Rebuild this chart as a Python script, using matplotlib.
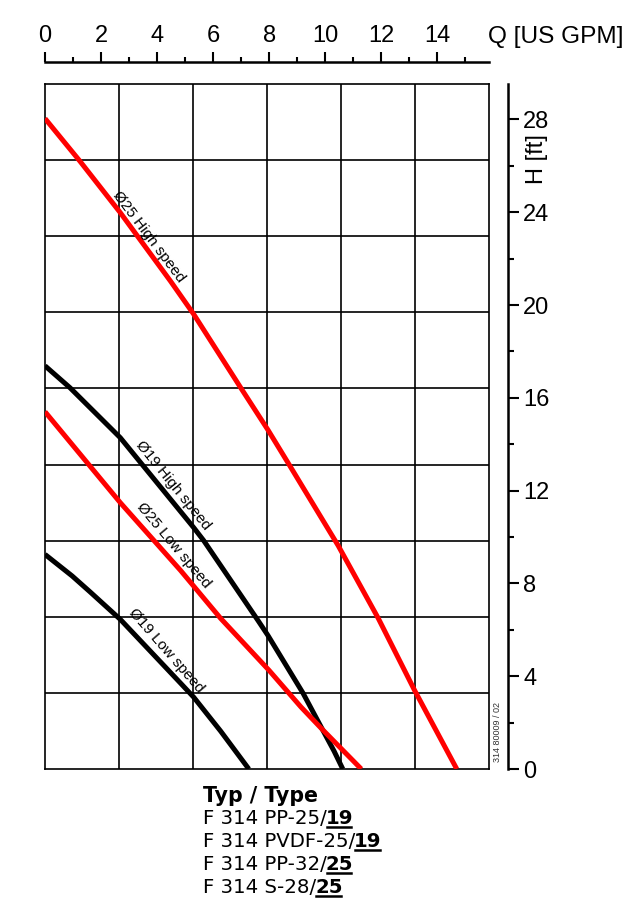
import numpy as np
import matplotlib
matplotlib.use("Agg")
import matplotlib.pyplot as plt
from matplotlib.lines import Line2D

W, H = 640, 911

# pump curves (Q in US GPM, H in ft)
q_25_high = [0, 1.254, 2.688, 4.48, 5.305, 6.989, 7.957, 8.781, 10.466, 11.90, 13.19, 14.70]
h_25_high = [28.04, 26.19, 23.98, 21.03, 19.61, 16.43, 14.62, 12.99, 9.63, 6.49, 3.40, 0]

q_19_high = [0, 0.896, 2.688, 5.305, 5.663, 7.599, 7.957, 9.211, 9.857, 10.32, 10.63]
h_19_high = [17.38, 16.43, 14.28, 10.41, 9.85, 6.41, 5.76, 3.27, 1.81, 0.77, 0]

q_25_low = [0, 2.688, 4.839, 6.272, 7.993, 9.140, 9.857, 11.29]
h_25_low = [15.40, 11.48, 8.56, 6.49, 4.26, 2.67, 1.76, 0]

q_19_low = [0, 0.97, 1.613, 2.688, 4.839, 5.305, 6.272, 7.276]
h_19_low = [9.25, 8.32, 7.63, 6.45, 3.70, 3.10, 1.63, 0]

q_ticks = [0, 2, 4, 6, 8, 10, 12, 14]
h_ticks = [0, 4, 8, 12, 16, 20, 24, 28]

types = ["F 314 PP-25/", "F 314 PVDF-25/", "F 314 PP-32/", "F 314 S-28/"]
sizes = ["19", "19", "25", "25"]

# grid is metric: 0.6 m3/h and 1 m
gx = 0.6 * 4.4029
gy = 3.2808

fig = plt.figure(figsize=(W / 100, H / 100), dpi=100)
fig.patch.set_facecolor("white")
ax = fig.add_axes([45 / W, (H - 769) / H, 444 / W, 685 / H])
ax.set_xlim(0, 6 * gx)
ax.set_ylim(0, 9 * gy)
ax.set_xticks(np.arange(1, 6) * gx)
ax.set_yticks(np.arange(1, 9) * gy)
ax.tick_params(length=0, labelbottom=False, labelleft=False)
ax.grid(True, color="black", lw=1.2)
for s in ax.spines.values():
    s.set_linewidth(1.2)

ax.plot(q_25_high, h_25_high, color="#ff0000", lw=3.6, solid_capstyle="butt", zorder=3)
ax.plot(q_19_high, h_19_high, color="black", lw=3.6, solid_capstyle="butt", zorder=3)
ax.plot(q_25_low, h_25_low, color="#ff0000", lw=3.6, solid_capstyle="butt", zorder=3)
ax.plot(q_19_low, h_19_low, color="black", lw=3.6, solid_capstyle="butt", zorder=3)

lab = dict(fontsize=11, family="Liberation Sans", ha="center", va="center",
           rotation_mode="anchor")
ax.text(3.72, 22.95, "Ø25 High speed", rotation=-53, **lab)
ax.text(4.58, 12.22, "Ø19 High speed", rotation=-51, **lab)
ax.text(4.58, 9.62, "Ø25 Low speed", rotation=-50, **lab)
ax.text(4.33, 5.12, "Ø19 Low speed", rotation=-49, **lab)

# top Q axis
sx = ax.secondary_xaxis(1 + 21.5 / 685)
sx.set_xticks(q_ticks)
sx.set_xticks(range(1, 16, 2), minor=True)
sx.tick_params(which="major", direction="out", length=7.5, width=1.5, pad=4,
               labelsize=17)
sx.tick_params(which="minor", direction="out", length=3.8, width=1.5)
sx.spines["top"].set_linewidth(1.8)
for t in sx.get_xticklabels():
    t.set_family("Liberation Sans")
fig.text(488 / W, 1 - 42.7 / H, "Q [US GPM]", fontsize=17.6, family="Liberation Sans",
         va="baseline", ha="left")

# right H axis
sy = ax.secondary_yaxis(1 + 19 / 444)
sy.set_yticks(h_ticks)
sy.set_yticks(range(2, 29, 4), minor=True)
sy.tick_params(which="major", direction="out", length=8, width=1.5, pad=3,
               labelsize=17)
sy.tick_params(which="minor", direction="out", length=4.3, width=1.5)
sy.spines["right"].set_linewidth(1.8)
for t in sy.get_yticklabels():
    t.set_family("Liberation Sans")
fig.text(537 / W, 1 - 159 / H, "H [ft]", fontsize=17, family="Liberation Sans",
         rotation=90, ha="center", va="center")

fig.text(498 / W, 1 - 732 / H, "314 80009 / 02", fontsize=6.5, family="Liberation Sans",
         rotation=90, ha="center", va="center", color="#333333")

# type list below the chart
fig.text(203 / W, 1 - 801.7 / H, "Typ / Type", fontsize=14.8, family="DejaVu Sans",
         weight="bold", va="baseline")
fig.canvas.draw()
r = fig.canvas.get_renderer()
bases = [823.5, 846.7, 870, 893.3]
for name, num, yb in zip(types, sizes, bases):
    t1 = fig.text(203 / W, 1 - yb / H, name, fontsize=14.2, family="DejaVu Sans",
                  va="baseline")
    bb = t1.get_window_extent(r)
    t2 = fig.text((bb.x1 - 1) / W, 1 - yb / H, num, fontsize=14.2, family="DejaVu Sans",
                  weight="bold", va="baseline")
    bb2 = t2.get_window_extent(r)
    yl = (H - yb - 3) / H
    fig.add_artist(Line2D([(bb2.x0 + 1) / W, (bb2.x1 - 2) / W], [yl, yl], color="black",
                          lw=1.8, transform=fig.transFigure))

fig.savefig("out.png", dpi=100, facecolor="white")
